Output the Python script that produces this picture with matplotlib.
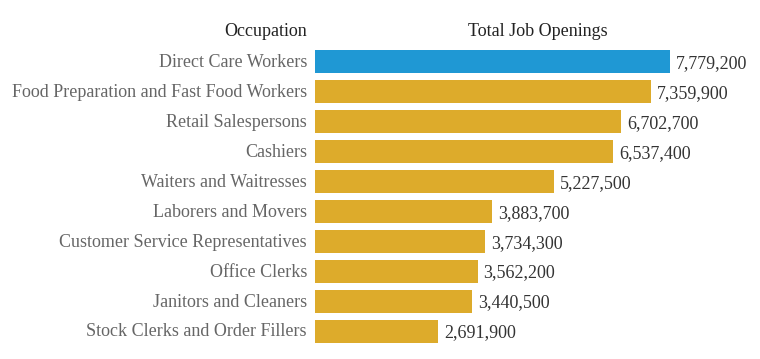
import matplotlib.pyplot as plt

occupations = [
    "Direct Care Workers",
    "Food Preparation and Fast Food Workers",
    "Retail Salespersons",
    "Cashiers",
    "Waiters and Waitresses",
    "Laborers and Movers",
    "Customer Service Representatives",
    "Office Clerks",
    "Janitors and Cleaners",
    "Stock Clerks and Order Fillers",
]
openings = [7779200, 7359900, 6702700, 6537400, 5227500,
            3883700, 3734300, 3562200, 3440500, 2691900]

plt.rcParams['font.family'] = ['Liberation Serif', 'DejaVu Serif']

fig = plt.figure(figsize=(7.6, 3.59), dpi=100)
W, H = 760, 359
# axes spans 315..760 px horizontally, 47..346 px vertically
ax = fig.add_axes([315 / W, 1 - 346 / H, 445 / W, 299 / H])

colors = ['#1f98d4'] + ['#ddab2b'] * (len(openings) - 1)
y = list(range(len(openings)))
ax.barh(y, openings, height=0.77, color=colors)

ax.set_ylim(len(openings) - 0.5, -0.5)
ax.set_xlim(0, 445 / 355 * 7779200)
ax.axis('off')

px = 7779200 / 355  # data units per pixel
for yi, (name, v) in enumerate(zip(occupations, openings)):
    ax.text(-8 * px, yi + 0.03, name, ha='right', va='center',
            fontsize=13, color='#666666')
    ax.text(v + 6 * px, yi + 0.06, f"{v:,}", ha='left', va='center',
            fontsize=13, color='#333333')

fig.text(307 / W, 1 - 32 / H, "Occupation", ha='right', va='center',
         fontsize=13, color='#222222')
fig.text(538 / W, 1 - 32 / H, "Total Job Openings", ha='center', va='center',
         fontsize=13, color='#222222')

fig.savefig("out.png", dpi=100)
